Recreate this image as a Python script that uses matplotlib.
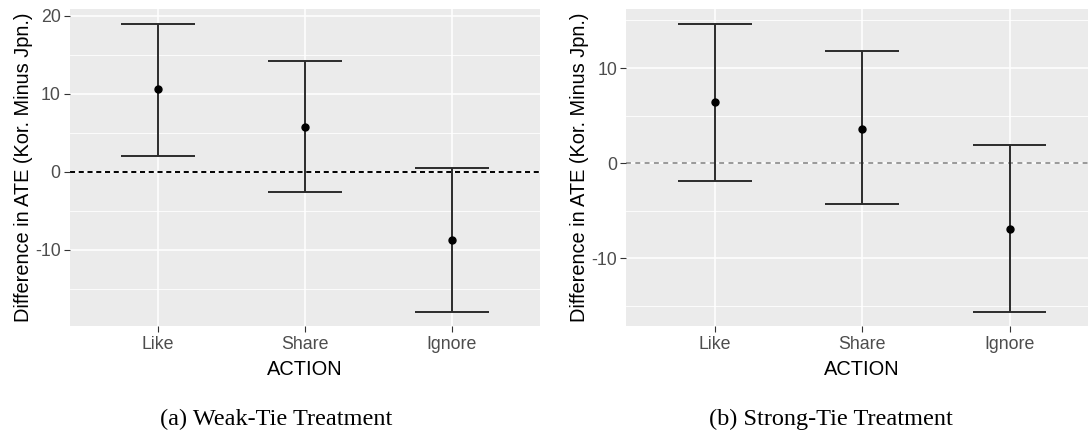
# Difference in ATE by action: weak-tie vs strong-tie treatment

import numpy as np
import matplotlib.pyplot as plt

actions = ["Like", "Share", "Ignore"]

weak_est = [10.57, 5.78, -8.69]
weak_low = [1.96, -2.61, -17.90]
weak_high = [18.96, 14.16, 0.43]

strong_est = [6.39, 3.62, -6.93]
strong_low = [-1.84, -4.29, -15.61]
strong_high = [14.66, 11.81, 1.93]

plt.rcParams['font.family'] = ['Liberation Sans', 'DejaVu Sans']

fig = plt.figure(figsize=(10.88, 4.33), dpi=100)
ax_a = fig.add_axes([0.0643, 0.2471, 0.432, 0.7314])
ax_b = fig.add_axes([0.5758, 0.2471, 0.4334, 0.7314])


def draw_panel(ax, est, low, high, yticks, yminor, zero_color, zero_lw, zero_dash):
    x = np.arange(1, len(actions) + 1)
    low = np.array(low)
    high = np.array(high)

    ax.set_facecolor('#EBEBEB')
    for s in ax.spines.values():
        s.set_visible(False)

    # grid
    for v in yminor:
        ax.axhline(v, color='white', lw=0.6, zorder=0)
    for v in yticks:
        ax.axhline(v, color='white', lw=1.1, zorder=0)
    for v in x:
        ax.axvline(v, color='white', lw=1.1, zorder=0)

    ax.axhline(0, color=zero_color, lw=zero_lw, linestyle=(0, zero_dash), zorder=1)

    # error bars
    ax.vlines(x, low, high, color='#2b2b2b', lw=1.4, zorder=2)
    ax.hlines(low, x - 0.25, x + 0.25, color='#2b2b2b', lw=1.4, zorder=2)
    ax.hlines(high, x - 0.25, x + 0.25, color='#2b2b2b', lw=1.4, zorder=2)
    ax.plot(x, est, 'o', color='black', markersize=5, zorder=3)

    span = high.max() - low.min()
    ax.set_ylim(low.min() - 0.05 * span, high.max() + 0.05 * span)
    ax.set_xlim(0.4, 3.6)

    ax.set_xticks(x)
    ax.set_xticklabels(actions)
    ax.set_yticks(yticks)
    ax.set_yticklabels([str(v) for v in yticks])
    ax.tick_params(axis='both', colors='#333333', length=4.2, width=0.8,
                   labelcolor='#4D4D4D', labelsize=12.8)
    ax.tick_params(axis='x', pad=3)
    ax.tick_params(axis='y', pad=2.5)

    ax.set_xlabel("ACTION", fontsize=14.4, color='black')
    ax.set_ylabel("Difference in ATE (Kor. Minus Jpn.)", fontsize=14.4, color='black')
    ax.xaxis.set_label_coords(0.5, -0.107)
    ax.yaxis.set_label_coords(-0.079, 0.5)


draw_panel(ax_a, weak_est, weak_low, weak_high,
           [-10, 0, 10, 20], [-15, -5, 5, 15], 'black', 1.4, (2.6, 1.9))
draw_panel(ax_b, strong_est, strong_low, strong_high,
           [-10, 0, 10], [-15, -5, 5, 15], '#7f7f7f', 1.1, (3.2, 2.9))

fig.text(276 / 1088, 1 - 419 / 433, "(a) Weak-Tie Treatment", ha='center', va='center',
         fontsize=17.5, family=['Liberation Serif', 'DejaVu Serif'])
fig.text(831 / 1088, 1 - 419 / 433, "(b) Strong-Tie Treatment", ha='center', va='center',
         fontsize=17.5, family=['Liberation Serif', 'DejaVu Serif'])

fig.savefig("out.png", dpi=100)
